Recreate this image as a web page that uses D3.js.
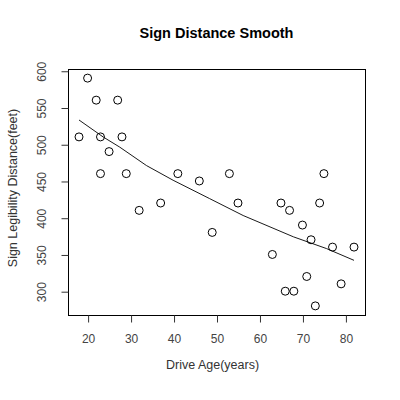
<!DOCTYPE html>
<html>
<head>
<meta charset="utf-8">
<script src="https://d3js.org/d3.v7.min.js"></script>
<style>
body { margin: 0; background: #fff; }
svg { display: block; }
text { font-family: "Liberation Sans", Arial, sans-serif; }
</style>
</head>
<body>
<div id="chart"></div>
<script>
// driver age vs sign legibility distance
var ages = [18, 20, 22, 23, 23, 25, 27, 28, 29, 32, 37, 41, 46, 49, 53,
  55, 63, 65, 66, 67, 68, 70, 71, 72, 73, 74, 75, 77, 79, 82];
var distances = [510, 590, 560, 510, 460, 490, 560, 510, 460, 410, 420, 460, 450, 380, 460,
  420, 350, 420, 300, 410, 300, 390, 320, 370, 280, 420, 460, 360, 310, 360];

// smooth curve
var smoothAge = [18, 23.6, 27.5, 33.7, 39.9, 48.4, 56.2, 67.9, 75.6, 82];
var smoothDist = [533, 510, 496, 471, 451, 426, 403, 374, 358, 342];

var xTicks = [20, 30, 40, 50, 60, 70, 80];
var yTicks = [300, 350, 400, 450, 500, 550, 600];

(function drawChart() {

var width = 400,
height = 400;

// plot region edges (window.top is reserved, so no bare "top")
var pLeft = 68, pRight = 365, pTop = 69, pBottom = 315;

var svg = d3.select("#chart").append("svg")
  .attr("width", width)
  .attr("height", height);

// R style: data range padded by 4%
var x = d3.scaleLinear().domain([15.44, 84.56]).range([pLeft, pRight]);
var y = d3.scaleLinear().domain([267.6, 602.4]).range([pBottom, pTop]);

//PLOT BOX
svg.append("rect")
  .attr("x", pLeft + 0.5)
  .attr("y", pTop + 0.5)
  .attr("width", pRight - pLeft)
  .attr("height", pBottom - pTop)
  .attr("fill", "none")
  .attr("stroke", "#000");

//AXES
var xAxis = d3.axisBottom(x).tickValues(xTicks).tickSize(7).tickPadding(12);
var yAxis = d3.axisLeft(y).tickValues(yTicks).tickSize(7).tickPadding(8);

var gx = svg.append("g")
  .attr("transform", "translate(0.5," + (pBottom + 0.5) + ")")
  .call(xAxis);
gx.select(".domain").remove();

var gy = svg.append("g")
  .attr("transform", "translate(" + (pLeft + 0.5) + ",0.5)")
  .call(yAxis);
gy.select(".domain").remove();

svg.selectAll(".tick text")
  .attr("font-size", 12)
  .attr("font-family", "Liberation Sans, Arial, sans-serif")
  .attr("fill", "#444");

svg.selectAll(".tick line").attr("stroke", "#333");

// y tick labels sit parallel to the axis
gy.selectAll(".tick text")
  .attr("x", null)
  .attr("dy", null)
  .attr("text-anchor", "middle")
  .attr("transform", "translate(-23,0) rotate(-90)");

//POINTS
svg.append("g")
  .selectAll("circle")
  .data(ages)
  .enter().append("circle")
  .attr("cx", function(d) { return x(d); })
  .attr("cy", function(d, i) { return y(distances[i]); })
  .attr("r", 4)
  .attr("fill", "none")
  .attr("stroke", "#000")
  .attr("stroke-width", 1);

//SMOOTH LINE
var line = d3.line()
  .x(function(d) { return x(d); })
  .y(function(d, i) { return y(smoothDist[i]); });

svg.append("path")
  .attr("d", line(smoothAge))
  .attr("fill", "none")
  .attr("stroke", "#000")
  .attr("stroke-width", 0.9);

//LABELS
svg.append("text")
  .text("Sign Distance Smooth")
  .attr("x", (pLeft + pRight) / 2)
  .attr("y", 38)
  .attr("text-anchor", "middle")
  .attr("font-size", 14.5)
  .attr("font-weight", "bold");

svg.append("text")
  .text("Drive Age(years)")
  .attr("x", (pLeft + pRight) / 2 - 4)
  .attr("y", 369)
  .attr("text-anchor", "middle")
  .attr("font-size", 12.5)
  .attr("fill", "#333");

svg.append("text")
  .text("Sign Legibility Distance(feet)")
  .attr("transform", "translate(17," + ((pTop + pBottom) / 2 - 4) + ") rotate(-90)")
  .attr("text-anchor", "middle")
  .attr("font-size", 12.5)
  .attr("fill", "#333");

}());
</script>
</body>
</html>
